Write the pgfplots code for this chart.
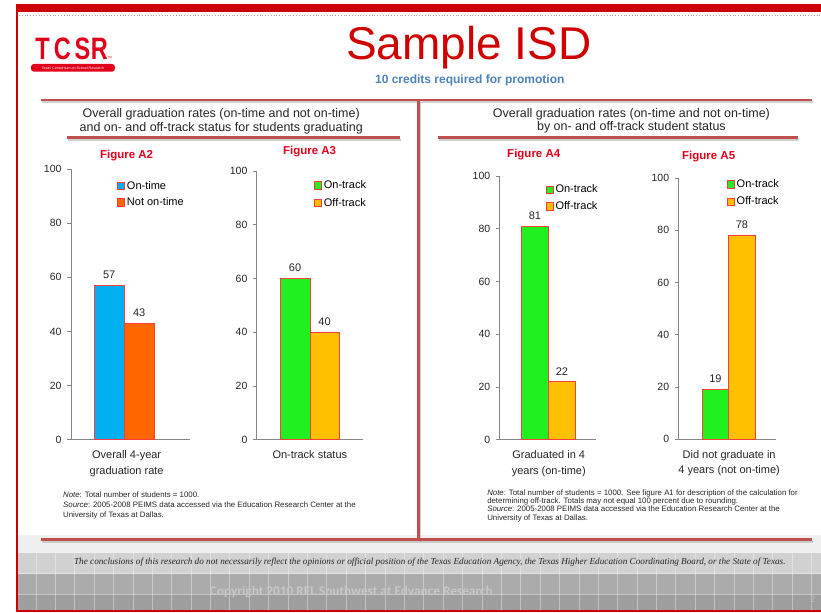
\documentclass[border=0pt]{standalone}
\usepackage{pgfplots}
\pgfplotsset{compat=1.18}
\usepackage{fontspec}
\setmainfont{Liberation Sans}
\newfontfamily\serifit{Liberation Serif}
\newfontfamily\carlito{Carlito}
\definecolor{slidered}{HTML}{CC0000}
\definecolor{titlered}{HTML}{D00000}
\definecolor{figred}{HTML}{E3001B}
\definecolor{panelred}{HTML}{C0504D}
\definecolor{subblue}{HTML}{4F81BD}
\definecolor{axgray}{HTML}{868686}
\definecolor{cblue}{HTML}{00B0F0}
\definecolor{corange}{HTML}{FF6600}
\definecolor{cgreen}{HTML}{20F020}
\definecolor{cyellow}{HTML}{FFC000}
\definecolor{barred}{HTML}{FF3B3B}
\pgfplotsset{
  slidebar/.style={
    scale only axis, ymin=0, ymax=100,
    anchor=south west,
    ybar=0pt,
    axis x line*=bottom, axis y line*=left,
    axis line style={draw=axgray, line width=0.8pt, -},
    ytick={0,20,40,60,80,100},
    tick align=outside, major tick length=4pt,
    ytick style={draw=axgray, line width=0.8pt},
    xtick style={draw=none},
    yticklabel shift=2pt,
    yticklabel style={font=\fontsize{10.5}{12}\selectfont, text=black!85},
    xticklabel style={font=\fontsize{11}{15.5}\selectfont, text=black!85, align=center, yshift=-3.5pt},
    /pgf/number format/assume math mode=true,
    nodes near coords,
    nodes near coords style={font=\fontsize{11}{12}\selectfont, text=black!85, yshift=3pt},
    legend style={draw=none, fill=none, font=\fontsize{11}{12}\selectfont, anchor=north west, inner sep=0pt},
    legend cell align=left,
    legend image code/.code={\draw[##1, draw=barred, line width=0.6pt] (0pt,-3.7pt) rectangle (7.4pt,3.7pt);},
    every axis plot/.append style={draw=barred, line width=0.6pt},
    clip=false,
  }
}
\begin{document}
\begin{tikzpicture}[x=1pt,y=1pt]
% ---------- slide frame ----------
\fill[white] (0,0) rectangle (821,613);
\fill[black!6] (18,613-553) rectangle (821,613-535);
\fill[black!18] (18,613-574) rectangle (821,613-553);
\fill[black!33] (18,613-595) rectangle (821,613-574);
\fill[black!38] (18,613-610) rectangle (821,613-595);
\foreach \i in {0,...,40} {
  \draw[white, opacity=0.35, line width=0.8pt] (36+19.4*\i,613-553) -- (36+19.4*\i,613-610);
}
\draw[white, opacity=0.4, line width=0.8pt] (18,613-574) -- (821,613-574);
\draw[white, opacity=0.3, line width=0.8pt] (18,613-595) -- (821,613-595);
\fill[slidered] (16,613-4) rectangle (821,613-11.7);
\draw[black!35, dotted, line width=0.8pt] (19,613-15) -- (821,613-15);
\fill[slidered] (16,613-4) rectangle (18.5,613-612);
\fill[slidered] (16,0.6) rectangle (821,3);
% ---------- logo ----------
\foreach \ch/\cx in {T/42.5,C/62.5,S/82.5,R/99.5} {
  \node[anchor=base, inner sep=0pt, text=figred, font=\fontsize{31}{30}\selectfont\bfseries] at (\cx,613-60) {\scalebox{0.76}[1]{\ch}};
}
\node[anchor=base west, inner sep=0pt, text=figred, font=\fontsize{3}{3}\selectfont] at (107.5,613-59) {TM};
\fill[figred, rounded corners=3pt] (31,613-64) rectangle (115,613-71.7);
\node[inner sep=0pt, text=white, font=\fontsize{3.6}{4}\selectfont] at (73,613-67.9) {Texas Consortium on School Research};
% ---------- title ----------
\node[anchor=base, inner sep=0pt, text=titlered, font=\fontsize{46}{46}\selectfont] at (469,613-59.3) {Sample ISD};
\node[anchor=base, inner sep=0pt, text=subblue, font=\fontsize{12}{14}\selectfont\bfseries] at (470,613-83.3) {10 credits required for promotion};
% ---------- panel lines ----------
\begin{scope}[black!30, opacity=0.6, line width=2pt]
\draw (42.5,613-102) -- (813.5,613-102);
\draw (68.5,613-139.7) -- (401.5,613-139.7);
\draw (439.5,613-139.7) -- (799.5,613-139.7);
\draw (42.5,613-542) -- (813.5,613-542);
\draw (420.5,613-102) -- (420.5,613-542);
\end{scope}
\begin{scope}[panelred, line width=2.6pt]
\draw (41,613-100) -- (812,613-100);
\draw (67,613-137.7) -- (400,613-137.7);
\draw (438,613-137.5) -- (798,613-137.5);
\draw (41,613-540) -- (812,613-540);
\draw (418.5,613-100) -- (418.5,613-540);
\end{scope}
\node[align=center, inner sep=0pt, font=\fontsize{12.5}{14.3}\selectfont, text=black!85] at (221.3,613-121.2) {Overall graduation rates (on-time and not on-time)\\and on- and off-track status for students graduating};
\node[align=center, inner sep=0pt, font=\fontsize{12.5}{13.4}\selectfont, text=black!85] at (631.7,613-121) {Overall graduation rates (on-time and not on-time)\\by on- and off-track student status};
% ---------- figure titles ----------
\begin{scope}[every node/.style={anchor=base, inner sep=0pt, text=figred, font=\fontsize{11.5}{12}\selectfont\bfseries}]
\node at (126.7,613-158.3) {Figure A2};
\node at (309.7,613-155) {Figure A3};
\node at (534,613-157.7) {Figure A4};
\node at (709,613-160) {Figure A5};
\end{scope}
% ---------- Figure A2 ----------
\begin{scope}[shift={(71,173)}]
\begin{axis}[slidebar,
  width=119pt, height=271pt, xmin=0, xmax=119, bar width=30pt,
  xtick={55.7}, xticklabels={{Overall 4-year\\graduation rate}},
  legend style={at={(0.385,0.963)}, row sep=3pt}]
\addplot[fill=cblue] coordinates {(53.3,57)};
\addplot[fill=corange] coordinates {(53.3,43)};
\legend{On-time, Not on-time}
\end{axis}
\end{scope}
% ---------- Figure A3 ----------
\begin{scope}[shift={(257,173)}]
\begin{axis}[slidebar,
  width=106pt, height=269pt, xmin=0, xmax=106, bar width=29.5pt,
  xtick={53}, xticklabels={On-track status},
  legend style={at={(0.536,0.973)}, row sep=4.4pt}]
\addplot[fill=cgreen] coordinates {(53,60)};
\addplot[fill=cyellow] coordinates {(53,40)};
\legend{On-track, Off-track}
\end{axis}
\end{scope}
% ---------- Figure A4 ----------
\begin{scope}[shift={(500,173)}]
\begin{axis}[slidebar,
  width=96pt, height=264pt, xmin=0, xmax=96, bar width=27pt,
  xtick={49}, xticklabels={{Graduated in 4\\years (on-time)}},
  legend style={at={(0.475,0.974)}, row sep=3.3pt}]
\addplot[fill=cgreen] coordinates {(48.7,81)};
\addplot[fill=cyellow] coordinates {(48.7,22)};
\legend{On-track, Off-track}
\end{axis}
\end{scope}
% ---------- Figure A5 ----------
\begin{scope}[shift={(679,173.7)}]
\begin{axis}[slidebar,
  width=97.7pt, height=261pt, xmin=0, xmax=97.7, bar width=26.5pt,
  xtick={50.5}, xticklabels={{Did not graduate in\\4 years (not on-time)}},
  legend style={at={(0.49,1.003)}, row sep=3.7pt}]
\addplot[fill=cgreen] coordinates {(50,19)};
\addplot[fill=cyellow] coordinates {(50,78)};
\legend{On-track, Off-track}
\end{axis}
\end{scope}
% ---------- notes ----------
\begin{scope}[every node/.style={anchor=base west, inner sep=0pt, text=black!85, font=\fontsize{7.85}{8}\selectfont}]
\node at (63,613-497.3) {\textit{Note}: Total number of students = 1000.};
\node at (63,613-507.6) {\textit{Source}: 2005-2008 PEIMS data accessed via the Education Research Center at the};
\node at (63,613-517.6) {University of Texas at Dallas.};
\node at (487.3,613-495.9) {\textit{Note}: Total number of students = 1000. See figure A1 for description of the calculation for};
\node at (487.3,613-504.2) {determining off-track. Totals may not equal 100 percent due to rounding.};
\node at (487.3,613-511.9) {\textit{Source}: 2005-2008 PEIMS data accessed via the Education Research Center at the};
\node at (487.3,613-520.3) {University of Texas at Dallas.};
\end{scope}
% ---------- footer ----------
\node[anchor=base, inner sep=0pt, text=black!85, font=\serifit\itshape\fontsize{9.2}{10}\selectfont] at (430,613-565) {The conclusions of this research do not necessarily reflect the opinions or official position of the Texas Education Agency, the Texas Higher Education Coordinating Board, or the State of Texas.};
\node[inner sep=0pt, text=black!22, font=\carlito\bfseries\fontsize{13.3}{14}\selectfont] at (351.5,613-592) {Copyright 2010 REL Southwest at Edvance Research};
\node[inner sep=0pt, text=black!25, font=\fontsize{9}{10}\selectfont] at (813,613-600) {2};
\end{tikzpicture}
\end{document}
